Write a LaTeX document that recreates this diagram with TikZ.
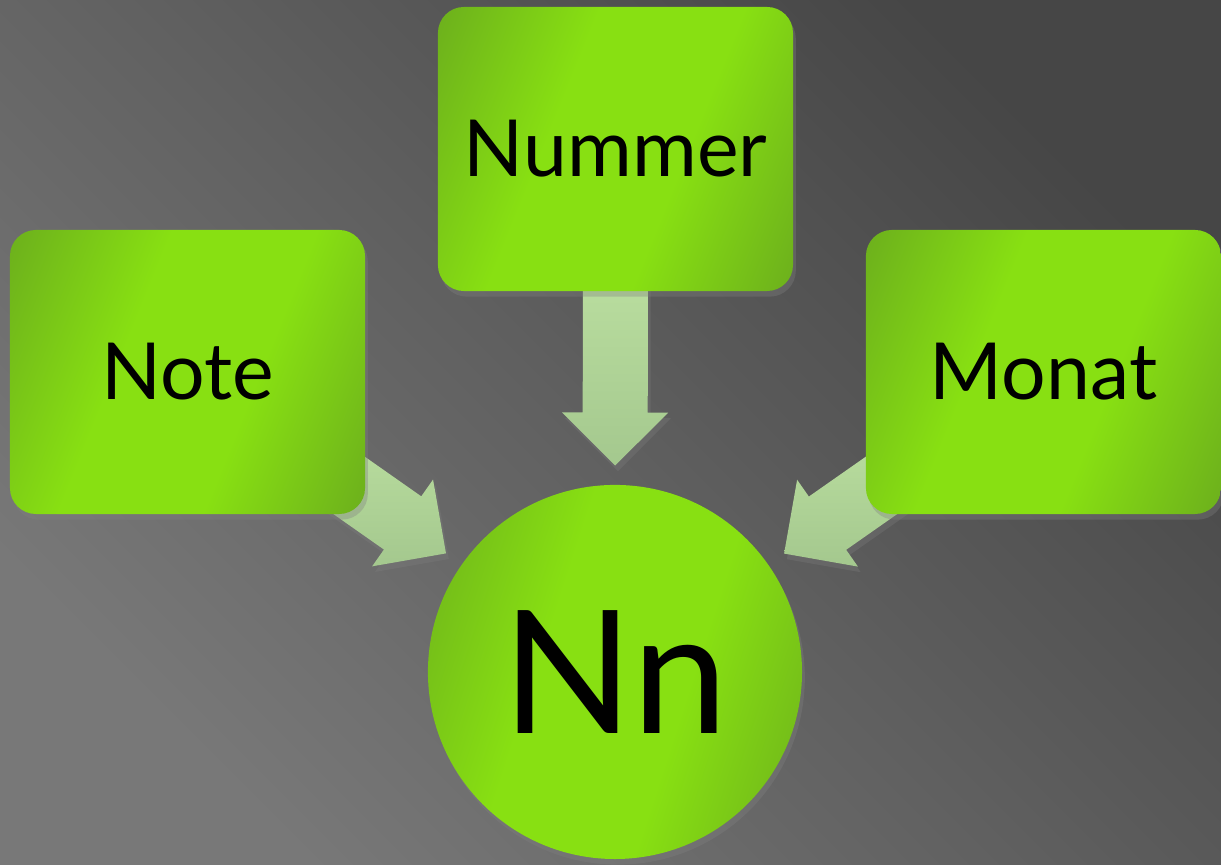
\documentclass[tikz,border=0pt]{standalone}
\usepackage{fontspec}
\setmainfont{Lato}
\usepackage{tikz}
\usetikzlibrary{positioning}
\usetikzlibrary{calc,shadows,backgrounds}

\pgfdeclarelayer{bg}
\pgfdeclarelayer{back}
\pgfsetlayers{bg,back,main}

\definecolor{leafdark}{RGB}{104,168,30}
\definecolor{leaflight}{RGB}{136,224,18}
\definecolor{arrowtop}{RGB}{200,236,170}
\definecolor{arrowbot}{RGB}{164,200,142}
\definecolor{bgdark}{RGB}{70,70,70}
\definecolor{bglight}{RGB}{120,120,120}

\pgfdeclareverticalshading{leafband}{100bp}{color(0bp)=(leafdark);
  color(14bp)=(leafdark); color(40bp)=(leaflight); color(60bp)=(leaflight);
  color(86bp)=(leafdark); color(100bp)=(leafdark)}

\begin{document}
\begin{tikzpicture}[x=0.025cm, y=-0.025cm,
    box/.style={rectangle, rounded corners=0.65cm, minimum width=8.875cm,
      minimum height=7.1cm, shading=leafband, shading angle=68,
      drop shadow={opacity=0.35, shadow xshift=2pt, shadow yshift=-4pt},
      font=\fontsize{56}{60}\selectfont},
    hub/.style={circle, minimum size=9.35cm, inner sep=0pt,
      shading=leafband, shading angle=72,
      drop shadow={opacity=0.35, shadow xshift=2pt, shadow yshift=-4pt},
      font=\fontsize{122}{126}\selectfont},
    fat/.style={top color=arrowtop, bottom color=arrowbot,
      drop shadow={opacity=0.3, shadow xshift=2pt, shadow yshift=-4pt}}]

  \begin{pgfonlayer}{bg}
    \shade[top color=bgdark, bottom color=bglight, shading angle=-45]
      (0,0) rectangle (1221,865);
  \end{pgfonlayer}

  \node[box] (nummer) at (615.5,149) {Nummer};
  \node[box] (note) at (187.5,372) {Note};
  \node[box] (monat) at (1043.5,372) {Monat};
  \node[hub] (nn) at (615,672) {Nn};

  \begin{pgfonlayer}{back}
    \foreach \src in {note,nummer,monat} {
      \coordinate (tip) at ($(nn.center)!5.16cm!(\src.center)$);
      \coordinate (base) at ($(tip)!1.325cm!(\src.center)$);
      \shade[fat] ($(\src.center)!0.8125cm!90:(tip)$)
        -- ($(base)!0.8125cm!-90:(\src.center)$)
        -- ($(base)!1.325cm!-90:(\src.center)$)
        -- (tip)
        -- ($(base)!1.325cm!90:(\src.center)$)
        -- ($(base)!0.8125cm!90:(\src.center)$)
        -- ($(\src.center)!0.8125cm!-90:(tip)$) -- cycle;
    }
  \end{pgfonlayer}
\end{tikzpicture}
\end{document}
